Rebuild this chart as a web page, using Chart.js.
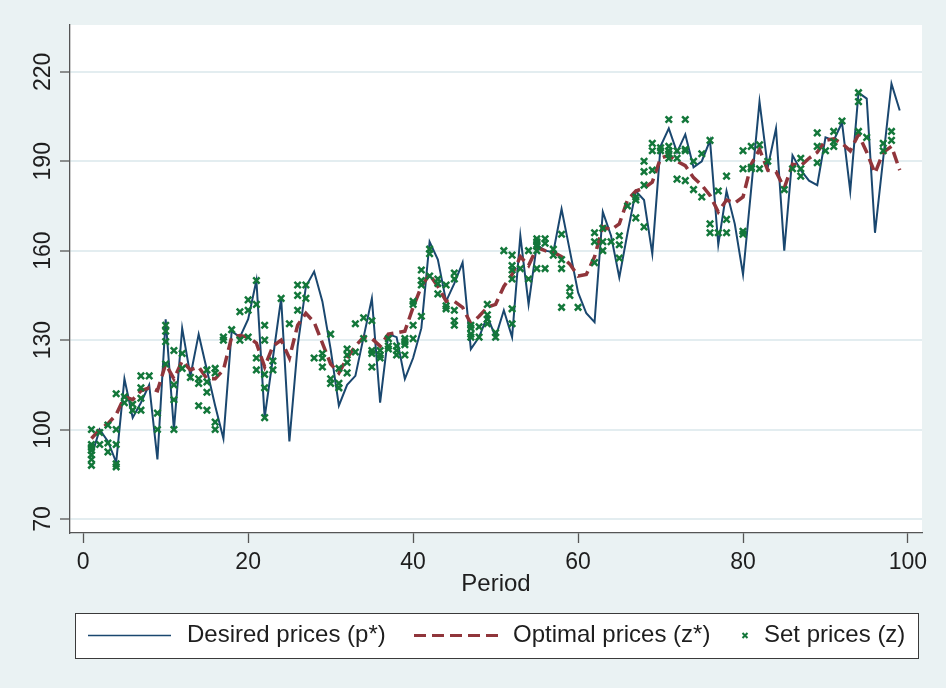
<!DOCTYPE html>
<html>
<head>
<meta charset="utf-8">
<script src="https://cdn.jsdelivr.net/npm/chart.js@4.4.1/dist/chart.umd.min.js"></script>
<style>
  html, body { margin: 0; padding: 0; background: #eaf2f3; }
  #chart { display: block; }
</style>
</head>
<body>
<canvas id="chart" width="946" height="688"></canvas>
<script>
// ── Data ─────────────────────────────────────────────
const periods = [
   1,  2,  3,  4,  5,  6,  7,  8,  9, 10, 11, 12, 13, 14, 15, 16, 17, 18, 19, 20,
  21, 22, 23, 24, 25, 26, 27, 28, 29, 30, 31, 32, 33, 34, 35, 36, 37, 38, 39, 40,
  41, 42, 43, 44, 45, 46, 47, 48, 49, 50, 51, 52, 53, 54, 55, 56, 57, 58, 59, 60,
  61, 62, 63, 64, 65, 66, 67, 68, 69, 70, 71, 72, 73, 74, 75, 76, 77, 78, 79, 80,
  81, 82, 83, 84, 85, 86, 87, 88, 89, 90, 91, 92, 93, 94, 95, 96, 97, 98, 99
];

// desired prices p*
const desiredPrices = [
   91, 100,  96,  89, 117, 104, 109, 115,  90, 137, 100, 134, 118, 132, 120, 108,  97, 133, 131, 137,
  150, 104, 124, 144,  96, 128, 148, 153, 143, 127, 108, 115, 118, 131, 144, 109, 132, 131, 117, 124,
  134, 163, 157, 143, 149, 156, 127, 131, 138, 131, 140, 131, 165, 142, 162, 160, 159.5, 174, 160, 146,
  139, 136, 173, 165, 151, 166, 180, 177, 159, 195, 201, 193, 199, 188, 190, 197, 162, 180, 169, 152,
  181, 210, 188, 201, 160, 192, 187, 183.5, 182, 198, 197, 203, 180, 213, 211, 166, 191, 216, 207
];

// optimal prices z*
const optimalPrices = [
   97, 100, 102, 105, 111, 110, 113, 114, 113, 122, 117, 123, 120, 121, 117, 117, 120, 131, 131.5, 131,
  129, 121, 128, 130, 124, 135, 139, 136, 129, 122, 119, 124, 128, 131, 130.5, 128, 132, 132.5, 133, 141,
  148, 152, 148, 143, 143, 141, 135.5, 138, 141, 142, 148, 152, 158, 155, 161, 160, 159.5, 158, 155.5, 151.5,
  152, 158, 168, 167, 169, 177, 180, 181, 183, 191, 192, 190, 188.5, 184.5, 182, 178.5, 173, 177, 176, 178,
  189, 194, 187, 186.5, 181, 189, 188.5, 191, 193, 197, 197.5, 196, 193.5, 199, 193, 186, 193, 195, 187
];

// set prices z, one list per period
const setPrices = [
  [100, 95, 94, 93, 91.5, 90, 88], [99, 95], [101.5, 95.5, 92.5], [112, 100, 95, 88.5, 87.5], [111, 109],
  [108.5, 106.5], [118, 114, 110.5, 106.5], [118], [105.5, 100], [135, 133, 129.5, 122],
  [126.5, 115, 110, 100], [125.5, 120.5], [117.5], [117, 115.5, 108], [120, 116, 112.5, 106.5],
  [120.5, 119, 102.5, 100], [131, 130], [133.5], [139.5, 130], [143.5, 140, 131],
  [150, 142, 124, 120], [135, 130, 118.5, 114, 104], [123, 120], [144], [135.5],
  [148.5, 145, 140], [148.5, 144], [124], [125.5, 124, 121], [132, 117, 115.5],
  [120.5, 115.5, 114], [127, 125, 122.5, 119], [135.5, 126], [137.5, 130.5], [136.5, 126.5, 125.5, 121],
  [126.5, 125, 124], [130.5, 128, 127], [128, 126.5, 125], [130.5, 129.5, 128.5, 125], [143, 142, 135, 130.5],
  [153.5, 150, 148.5, 138], [160.5, 159, 151.5], [150.5, 149, 145.5], [148.5, 141.5, 140.5], [152.5, 150.5, 140, 136.5, 135],
  [], [135, 134, 132, 131], [134.5, 131], [142, 138.5, 137, 135.5], [132.5, 131],
  [160], [158.5, 155, 153.5, 150.5, 140.5, 135.5], [154], [160, 150.5], [164, 163, 162, 161.5, 160, 154],
  [164, 162.5, 154], [160.5, 158.5], [165.5, 157, 154, 141], [147.5, 145], [141],
  [], [166, 163, 156], [167.5, 163, 160], [163], [165, 162, 157.5],
  [175], [178, 177, 171], [190, 186.5, 182, 168], [196, 193.5, 187], [194.5, 193.5],
  [204, 195, 193.5, 192.5, 191], [193.5, 191, 184], [204, 194, 193.5, 183.5], [190, 180.5], [192.5, 178],
  [197, 169, 166], [180, 166], [185, 170.5, 166], [], [193.5, 187.5, 166.5, 165.5],
  [195, 188, 187.5], [195.5, 187.5], [190], [], [180.5],
  [187.5], [191, 187.5, 185], [], [199.5, 195, 189.5], [193.5],
  [200, 196.5, 195], [203.5], [], [213, 210, 200], [198],
  [], [196, 193.5], [200, 197], []
];

const xTicks = [0, 20, 40, 60, 80, 100];
const yTicks = [70, 100, 130, 160, 190, 220];
const seriesLabels = ['Desired prices (p*)', 'Optimal prices (z*)', 'Set prices (z)'];

// ── Styling ──────────────────────────────────────────
const FONT = "'Liberation Sans', Arial, Helvetica, sans-serif";
const TEXT = '#1e1e1e';
const AXIS = '#555555';
const NAVY = '#1a476f';
const MAROON = '#90353b';
const GREEN = '#13773a';

const toXY = (vals) => vals.map((v, i) => ({ x: periods[i], y: v }));
const setPoints = [];
setPrices.forEach((list, i) => list.forEach(v => setPoints.push({ x: periods[i], y: v })));

// white plot region on the bluish graph region
const backdrop = {
  id: 'backdrop',
  beforeDraw(chart) {
    const { ctx, chartArea: a } = chart;
    ctx.save();
    ctx.fillStyle = '#eaf2f3';
    ctx.fillRect(0, 0, chart.width, chart.height);
    ctx.fillStyle = '#ffffff';
    ctx.fillRect(a.left, a.top, a.right - a.left, a.bottom - a.top);
    ctx.restore();
  }
};

// Stata-style boxed legend under the axis title
const boxLegend = {
  id: 'boxLegend',
  afterDraw(chart) {
    const ctx = chart.ctx;
    const ds = chart.data.datasets;
    const cy = 635.5;
    ctx.save();
    ctx.fillStyle = '#ffffff';
    ctx.fillRect(75, 613, 843, 45);
    ctx.strokeStyle = '#3a3a3a';
    ctx.lineWidth = 1;
    ctx.strokeRect(75.5, 613.5, 843, 45);

    // desired
    ctx.strokeStyle = ds[0].borderColor;
    ctx.lineWidth = 1.5;
    ctx.beginPath(); ctx.moveTo(88, cy); ctx.lineTo(171, cy); ctx.stroke();
    // optimal
    ctx.strokeStyle = ds[1].borderColor;
    ctx.lineWidth = 3;
    ctx.setLineDash(ds[1].borderDash);
    ctx.beginPath(); ctx.moveTo(414, cy); ctx.lineTo(500, cy); ctx.stroke();
    ctx.setLineDash([]);
    // set prices marker
    ctx.strokeStyle = ds[2].borderColor;
    ctx.lineWidth = 2;
    const m = 2.5, mx = 745;
    ctx.beginPath();
    ctx.moveTo(mx - m, cy - m); ctx.lineTo(mx + m, cy + m);
    ctx.moveTo(mx - m, cy + m); ctx.lineTo(mx + m, cy - m);
    ctx.stroke();

    ctx.fillStyle = TEXT;
    ctx.font = '24px ' + FONT;
    ctx.textBaseline = 'middle';
    ctx.textAlign = 'left';
    ctx.fillText(ds[0].label, 187, cy);
    ctx.fillText(ds[1].label, 513, cy);
    ctx.fillText(ds[2].label, 764, cy);
    ctx.restore();
  }
};

new Chart(document.getElementById('chart'), {
  type: 'line',
  data: {
    datasets: [
      {
        label: seriesLabels[0],
        data: toXY(desiredPrices),
        borderColor: NAVY,
        borderWidth: 2,
        pointRadius: 0,
        tension: 0,
        order: 3
      },
      {
        label: seriesLabels[1],
        data: toXY(optimalPrices),
        borderColor: MAROON,
        borderWidth: 3.5,
        borderDash: [12, 6],
        pointRadius: 0,
        tension: 0,
        order: 2
      },
      {
        type: 'scatter',
        label: seriesLabels[2],
        data: setPoints,
        borderColor: GREEN,
        backgroundColor: GREEN,
        pointStyle: 'crossRot',
        pointRadius: 4.5,
        borderWidth: 2.5,
        showLine: false,
        order: 1
      }
    ]
  },
  options: {
    responsive: false,
    animation: false,
    events: [],
    layout: { padding: { top: 25, right: 24, left: 0, bottom: 0 } },
    plugins: { legend: { display: false }, tooltip: { enabled: false } },
    scales: {
      x: {
        type: 'linear',
        min: -1.6,
        max: 101.7,
        afterFit: s => { s.height = 155; },
        afterBuildTicks: s => { s.ticks = xTicks.map(v => ({ value: v })); },
        grid: { drawOnChartArea: false, drawTicks: true, tickLength: 10, tickColor: AXIS, tickWidth: 1.3 },
        border: { color: AXIS, width: 1.3 },
        ticks: { color: TEXT, font: { family: FONT, size: 23 }, padding: 6, maxRotation: 0, autoSkip: false },
        title: { display: true, text: 'Period', color: TEXT, font: { family: FONT, size: 24 }, padding: { top: 0, bottom: 89 } }
      },
      y: {
        type: 'linear',
        min: 65.3,
        max: 235.7,
        afterFit: s => { s.width = 70; },
        afterBuildTicks: s => { s.ticks = yTicks.map(v => ({ value: v })); },
        grid: { color: '#e3edf0', lineWidth: 2, drawTicks: true, tickLength: 10, tickColor: AXIS, tickWidth: 1.3 },
        border: { color: AXIS, width: 1.3 },
        ticks: { color: TEXT, font: { family: FONT, size: 23 }, padding: -3, minRotation: 90, maxRotation: 90, crossAlign: 'center', autoSkip: false }
      }
    }
  },
  plugins: [backdrop, boxLegend]
});
</script>
</body>
</html>
